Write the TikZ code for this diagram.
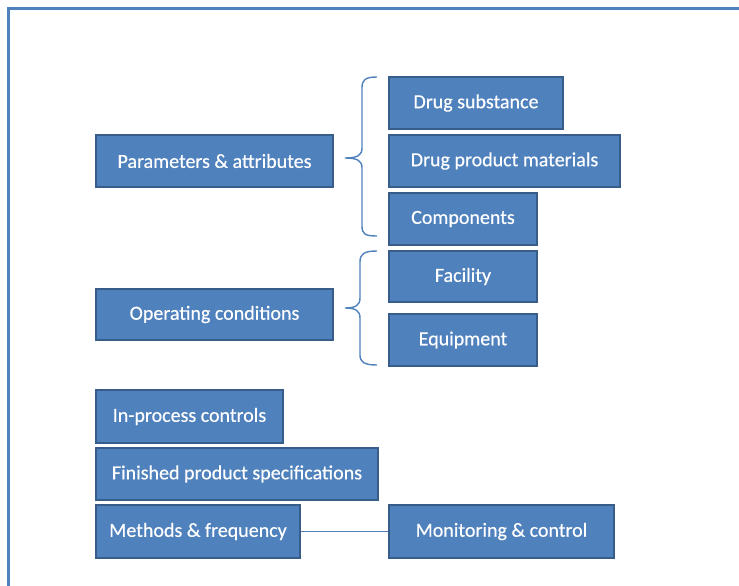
\documentclass[tikz,border=0pt]{standalone}
\usepackage{xcolor}
\usepackage{fontspec}
\setmainfont{Carlito}
\newfontfamily\boxfont{Carlito}[FakeBold=0.4]
\usepackage{tikz}

\definecolor{boxfill}{HTML}{4F81BD}
\definecolor{boxline}{HTML}{385D8A}

\begin{document}
\begin{tikzpicture}[x=1pt,y=-1pt,
                    main node/.style={rectangle,draw=boxline,line width=2.5pt,fill=boxfill,text=white,
                                      inner sep=0pt,minimum height=52pt,
                                      font=\boxfont\fontsize{20}{24}\selectfont},
                    brace line/.style={draw=boxfill,line width=1.4pt},
                    frame line/.style={draw=boxfill,line width=3pt}]

  \useasboundingbox (0,0) rectangle (739,586);
  \draw[frame line] (8.5,600) -- (8.5,8.5) -- (750,8.5);

  \node[main node,minimum width=237pt] (params) at (214.5,161) {Parameters \& attributes};
  \node[main node,minimum width=174pt] (drugsub) [shift={(261.5,-58)}] at (params) {Drug substance};
  \node[main node,minimum width=231pt] (drugprod) [shift={(290,0)}] at (params) {Drug product materials};
  \node[main node,minimum width=148pt] (comps) [shift={(248.5,58)}] at (params) {Components};

  \node[main node,minimum width=237pt,minimum height=51pt] (opcond) [shift={(0,153.5)}] at (params) {Operating conditions};
  \node[main node,minimum width=148pt,minimum height=51pt] (facility) [shift={(248.5,115.5)}] at (params) {Facility};
  \node[main node,minimum width=148pt] (equip) [shift={(248.5,179)}] at (params) {Equipment};

  \node[main node,minimum width=187pt,minimum height=53pt] (inproc) [shift={(-25,255.5)}] at (params) {In-process controls};
  \node[main node,minimum width=282pt] (finished) [shift={(22.5,313)}] at (params) {Finished product specifications};
  \node[main node,minimum width=204pt,minimum height=53pt] (methods) [shift={(-16.5,370.5)}] at (params) {Methods \& frequency};
  \node[main node,minimum width=225pt,minimum height=53pt] (monitor) [shift={(287,370.5)}] at (params) {Monitoring \& control};

  % braces
  \coordinate (pbrace) at (345,158);
  \coordinate (obrace) at (345,308);

  \draw[brace line] (377,77) .. controls (365,77) and (362,80) .. (362,88) -- (362,148)
                    .. controls (362,155) and (358,158) .. (pbrace)
                    .. controls (358,158) and (362,161) .. (362,168) -- (362,226)
                    .. controls (362,234) and (365,236) .. (377,236);

  \draw[brace line] (377,251) .. controls (364,251) and (360,254) .. (360,262) -- (360,298)
                    .. controls (360,305) and (356,308) .. (obrace)
                    .. controls (356,308) and (360,311) .. (360,318) -- (360,355)
                    .. controls (360,362) and (364,365) .. (377,365);

  \draw[brace line] (methods) -- (monitor);

\end{tikzpicture}
\end{document}
